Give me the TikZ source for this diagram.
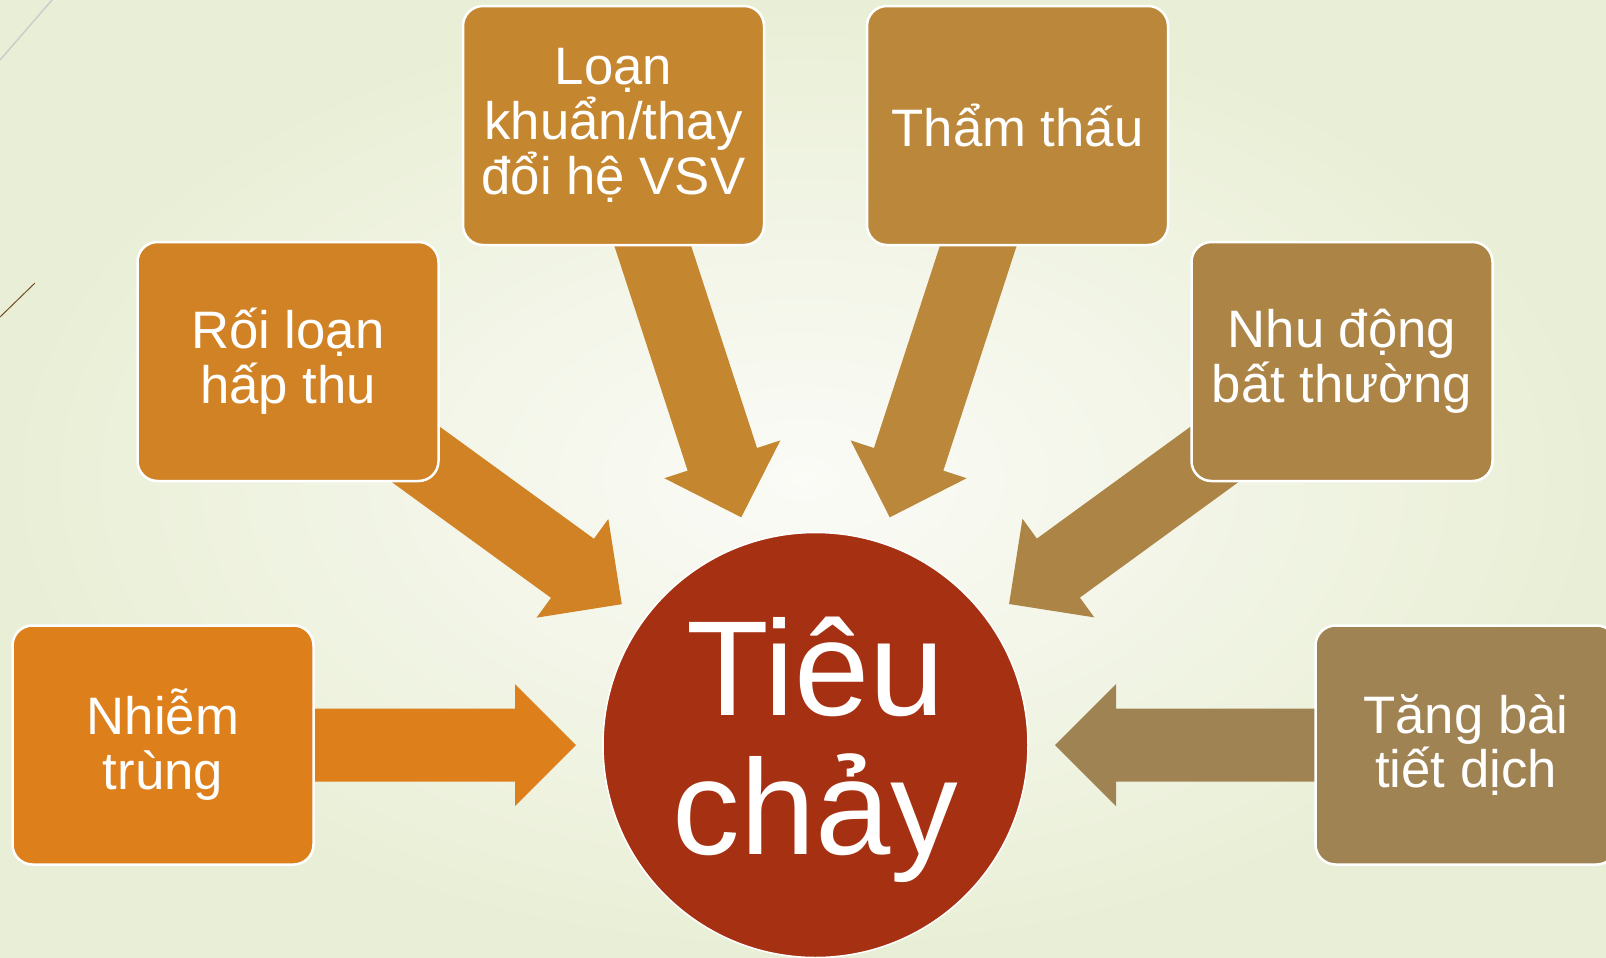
\documentclass[tikz,border=0pt]{standalone}
\usepackage{fontspec}
\setmainfont{Liberation Sans}
\usetikzlibrary{calc}

\definecolor{nhiemcol}{HTML}{DD7F1A}
\definecolor{roicol}{HTML}{D18225}
\definecolor{loancol}{HTML}{C58630}
\definecolor{thamcol}{HTML}{BA873B}
\definecolor{nhucol}{HTML}{AC8446}
\definecolor{tangcol}{HTML}{A08352}
\definecolor{tieucol}{HTML}{A63012}
\definecolor{bgin}{HTML}{FBFBF7}
\definecolor{bgout}{HTML}{E9EFD6}

\pgfdeclarelayer{back}
\pgfdeclarelayer{arrows}
\pgfsetlayers{back,arrows,main}

\tikzset{
  cause/.style={rectangle, rounded corners=2mm, draw=white, line width=0.25mm,
    minimum width=30.1mm, minimum height=23.9mm, text=white, align=center,
    font=\fontsize{15pt}{15.6pt}\selectfont},
  effect/.style={circle, draw=white, line width=0.15mm, fill=tieucol,
    minimum size=42.5mm, inner sep=0pt, text=white, align=center,
    text depth=1.9mm, font=\fontsize{38.5pt}{39.7pt}\selectfont}
}

\begin{document}
\begin{tikzpicture}[x=0.1mm, y=-0.1mm]
  \useasboundingbox (0,0) rectangle (1606,957);

  % Background
  \begin{pgfonlayer}{back}
    \shade[inner color=bgin, outer color=bgout] (0,0) rectangle (1606,957);
    \draw[black!20, line width=0.15mm] (0,60) -- (52,0);
    \draw[brown!60!black, line width=0.1mm] (0,317) -- (35,283);
  \end{pgfonlayer}

  % Centre
  \node[effect] (tieu) at (815.5,745) {Tiêu\\chảy};

  % Causes
  \node[cause, fill=nhiemcol] (nhiem) at (163,745) {Nhiễm\\trùng};
  \node[cause, fill=roicol] (roi) at (288,361.5) {Rối loạn\\hấp thu};
  \node[cause, fill=loancol] (loan) at (613.5,125.5) {Loạn\\khuẩn/thay\\đổi hệ VSV};
  \node[cause, fill=thamcol] (tham) at (1017.5,125.5) {Thẩm thấu};
  \node[cause, fill=nhucol] (nhu) at (1342,361.5) {Nhu động\\bất thường};
  \node[cause, fill=tangcol] (tang) at (1466,745) {Tăng bài\\tiết dịch};

  % Arrows
  \begin{pgfonlayer}{arrows}
    \foreach \from/\col in {nhiem/nhiemcol, roi/roicol, loan/loancol,
                            tham/thamcol, nhu/nhucol, tang/tangcol} {
      \coordinate (tip) at ($(tieu)!23.95mm!(\from)$);
      \coordinate (neck) at ($(tip)!6.1mm!(\from)$);
      \fill[\col] ($(\from)!3.65mm!90:(tip)$) -- ($(neck)!3.65mm!90:(tip)$)
        -- ($(neck)!6.1mm!90:(tip)$) -- (tip) -- ($(neck)!6.1mm!-90:(tip)$)
        -- ($(neck)!3.65mm!-90:(tip)$) -- ($(\from)!3.65mm!-90:(tip)$) -- cycle;
    }
  \end{pgfonlayer}
\end{tikzpicture}
\end{document}
